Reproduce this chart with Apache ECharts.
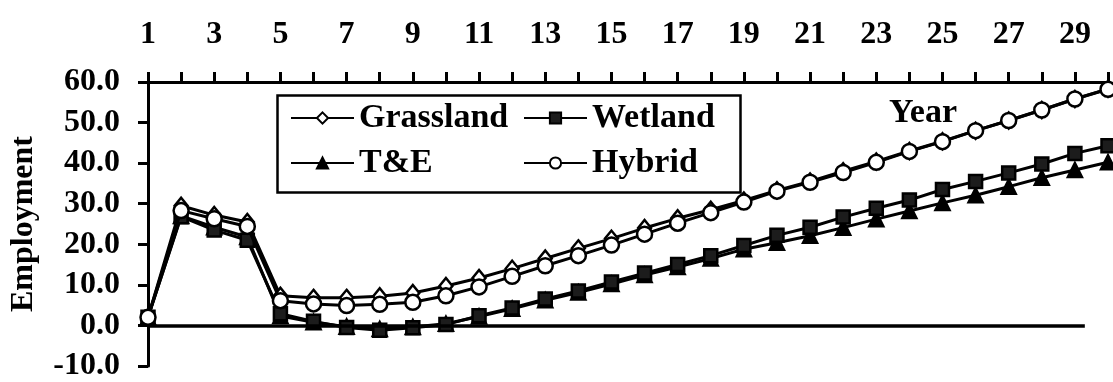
<!DOCTYPE html>
<html>
<head>
<meta charset="utf-8">
<script src="https://cdn.jsdelivr.net/npm/echarts@6/dist/echarts.min.js"></script>
<style>
  html, body { margin: 0; padding: 0; background: #fff; }
  #chart { width: 1113px; height: 382px; }
</style>
</head>
<body>
<div id="chart"></div>
<script>
// Employment by year for four land-use scenarios
const years = [1, 2, 3, 4, 5, 6, 7, 8, 9, 10, 11, 12, 13, 14, 15, 16, 17, 18, 19, 20, 21, 22, 23, 24, 25, 26, 27, 28, 29, 30];
const grassland = [2.0, 29.5, 27.2, 25.5, 7.3, 6.8, 6.8, 7.2, 8.0, 9.7, 11.7, 14.0, 16.5, 19.0, 21.4, 24.0, 26.4, 28.5, 30.8, 33.3, 35.5, 38.0, 40.4, 43.0, 45.4, 48.0, 50.5, 53.1, 55.8, 58.3];
const wetland = [2.0, 26.8, 23.5, 21.0, 2.9, 1.0, -0.5, -1.2, -0.6, 0.2, 2.4, 4.3, 6.5, 8.5, 10.7, 12.9, 15.0, 17.2, 19.7, 22.2, 24.2, 26.7, 28.9, 30.9, 33.5, 35.5, 37.6, 39.8, 42.4, 44.3];
const tande = [2.0, 27.0, 24.2, 21.8, 2.3, 0.8, -0.3, -0.9, -0.4, 0.4, 2.2, 4.1, 6.2, 8.1, 10.2, 12.4, 14.4, 16.5, 18.8, 20.4, 22.1, 24.1, 26.2, 28.2, 30.2, 32.1, 34.2, 36.4, 38.3, 40.2];
const hybrid = [2.0, 28.3, 26.3, 24.4, 6.1, 5.3, 4.9, 5.2, 5.7, 7.3, 9.5, 12.1, 14.7, 17.2, 19.8, 22.5, 25.2, 27.8, 30.4, 33.1, 35.3, 37.7, 40.2, 42.9, 45.3, 48.0, 50.5, 53.1, 55.8, 58.2];
const seriesNames = ['Grassland', 'Wetland', 'T&E', 'Hybrid'];
const yRange = [-10, 60];
const yStep = 10;
const zeroLineSpan = [1, 29.3];

const FONT = "'Liberation Serif', 'Times New Roman', serif";
const pairs = vals => years.map((yr, i) => [yr, vals[i]]);
const textStyle = { fontFamily: FONT, fontSize: 32, fontWeight: 'bold', color: '#000' };
const legendText = Object.assign({}, textStyle, { fontSize: 34 });

function lineSeries(name, vals, symbol, size, fill, z) {
  return {
    name, type: 'line', data: pairs(vals), z,
    symbol, symbolSize: size,
    itemStyle: { color: fill, borderColor: '#000', borderWidth: 2.5 },
    lineStyle: { color: '#000', width: 3 },
    emphasis: { disabled: true }
  };
}

const series = [
  lineSeries(seriesNames[2], tande, 'triangle', 14, '#000', 2),
  lineSeries(seriesNames[1], wetland, 'rect', 13, '#1c1c1c', 3),
  lineSeries(seriesNames[0], grassland, 'diamond', [13, 16], '#fff', 4),
  lineSeries(seriesNames[3], hybrid, 'circle', 15, '#fff', 5)
];
series[0].markLine = {
  silent: true, symbol: 'none', label: { show: false },
  lineStyle: { color: '#000', width: 3.5, type: 'solid' },
  data: [[{ coord: [zeroLineSpan[0], 0] }, { coord: [zeroLineSpan[1], 0] }]]
};

function legendAt(name, left, top) {
  return {
    data: [name], left, top, itemWidth: 63, itemHeight: 14,
    textStyle: legendText, selectedMode: false, padding: 0
  };
}

const chart = echarts.init(document.getElementById('chart'), null, { renderer: 'canvas' });
chart.setOption({
  animation: false,
  backgroundColor: '#fff',
  grid: { left: 146, right: 5, top: 82, bottom: 15 },
  xAxis: {
    type: 'value', position: 'top', min: years[0], max: years[years.length - 1], interval: 1,
    axisLine: { onZero: false, lineStyle: { color: '#000', width: 3 } },
    axisTick: { length: 10, lineStyle: { color: '#000', width: 3 } },
    axisLabel: Object.assign({ margin: 31, formatter: v => (v % 2 === 1 ? String(v) : '') }, textStyle),
    splitLine: { show: false }
  },
  yAxis: {
    type: 'value', min: yRange[0], max: yRange[1], interval: yStep,
    name: 'Employment', nameLocation: 'middle', nameGap: 108, nameTextStyle: textStyle,
    axisLine: { show: true, onZero: false, lineStyle: { color: '#000', width: 3 } },
    axisTick: { show: true, length: 10, lineStyle: { color: '#000', width: 3 } },
    axisLabel: Object.assign({ margin: 28, formatter: v => v.toFixed(1) }, textStyle),
    splitLine: { show: false }
  },
  legend: [
    legendAt(seriesNames[0], 290, 101),
    legendAt(seriesNames[1], 523, 101),
    legendAt(seriesNames[2], 290, 146),
    legendAt(seriesNames[3], 523, 146)
  ],
  graphic: [
    { type: 'rect', left: 275, top: 93, z: 10,
      shape: { width: 463, height: 97 },
      style: { fill: 'none', stroke: '#000', lineWidth: 2.5 } },
    { type: 'text', left: 889, top: 96, z: 10,
      style: { text: 'Year', font: "bold 34px 'Liberation Serif', 'Times New Roman', serif", fill: '#000' } }
  ],
  series
});
</script>
</body>
</html>
